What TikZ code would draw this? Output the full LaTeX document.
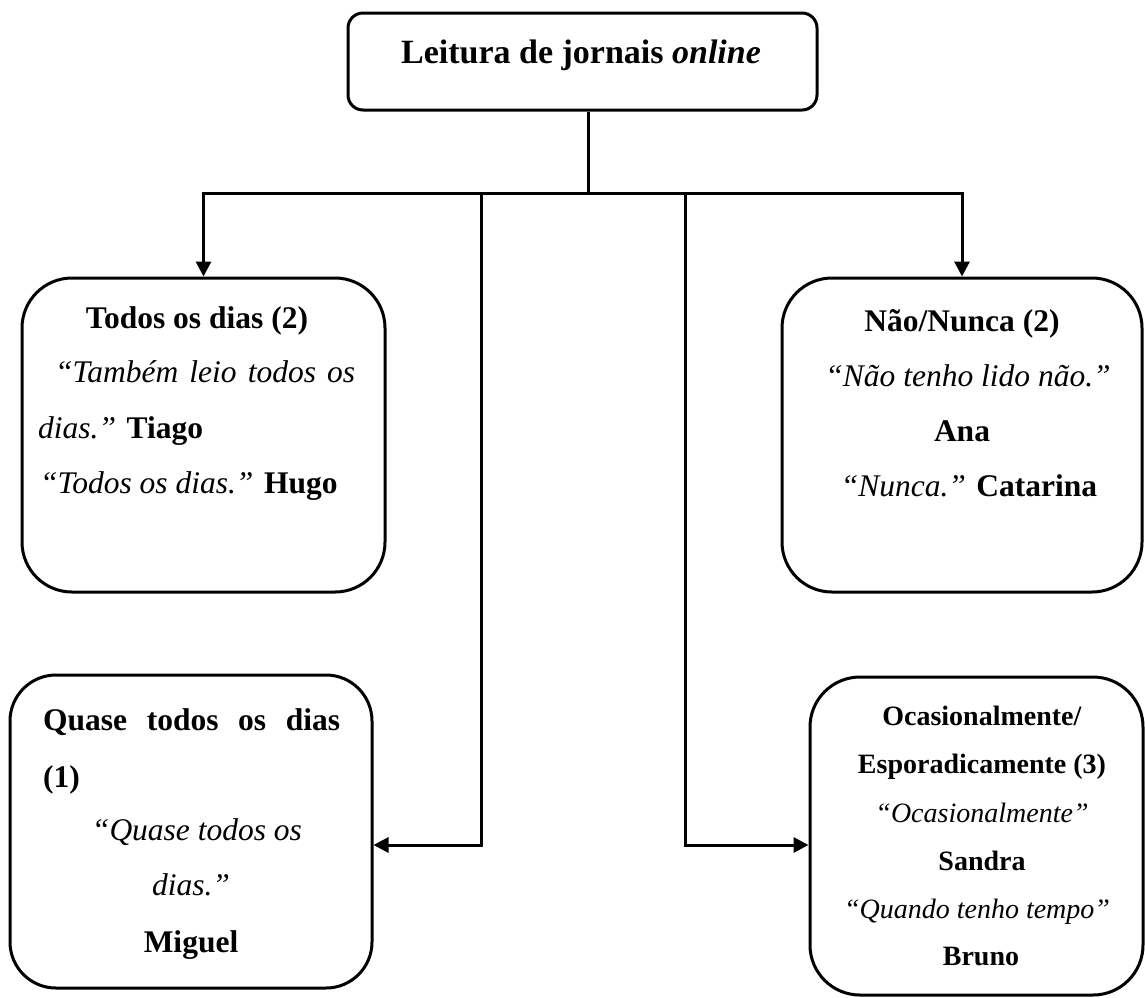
\documentclass[tikz,border=0pt]{standalone}
\usepackage{fontspec}
\setmainfont{Liberation Serif}
\usetikzlibrary{arrows.meta}
\begin{document}
\begin{tikzpicture}[x=1pt,y=-1pt,
  box/.style={draw, line width=3pt, inner sep=0pt},
  conn/.style={line width=3pt},
  arr/.style={line width=3pt, -{Triangle[length=15pt,width=15pt]}},
  txt/.style={inner sep=0pt, anchor=base, font=\fontsize{31.5}{38}\selectfont},
  txtw/.style={txt, anchor=base west},
  stxt/.style={inner sep=0pt, anchor=base, font=\fontsize{28}{34}\selectfont}]
\useasboundingbox (0,0) rectangle (1145,997);
% boxes
\node[box, rounded corners=15pt, minimum width=469pt, minimum height=97pt] (title) at (582.5,61.5) {};
\node[box, rounded corners=50pt, minimum width=363pt, minimum height=314pt] (todos) at (203.5,435) {};
\node[box, rounded corners=50pt, minimum width=360pt, minimum height=314pt] (nao) at (962,435) {};
\node[box, rounded corners=46pt, minimum width=362pt, minimum height=313pt] (quase) at (191,831.5) {};
\node[box, rounded corners=50pt, minimum width=333pt, minimum height=318pt] (ocas) at (976.5,836) {};
% title text
\node[inner sep=0pt, anchor=base, font=\fontsize{34}{40}\selectfont] (titletxt) at (581,63) {\textbf{Leitura de jornais \textit{online}}};
% todos
\node[txt] (t1) at (197,328) {\textbf{Todos os dias (2)}};
\node[txtw] (t2) at (55,382) {\itshape\makebox[300pt][s]{“Também leio todos os}};
\node[txtw] (t3) at (38,438) {\textit{dias.”} \textbf{Tiago}};
\node[txtw] (t4) at (40,493) {\textit{“Todos os dias.”} \textbf{Hugo}};
% nao
\node[txt] (n1) at (962,331) {\textbf{Não/Nunca (2)}};
\node[txt] (n2) at (968,386) {\textit{“Não tenho lido não.”}};
\node[txt] (n3) at (962,441) {\textbf{Ana}};
\node[txt] (n4) at (969,496) {\textit{“Nunca.”} \textbf{Catarina}};
% quase
\node[txtw] (q1) at (43,730) {\bfseries\makebox[297pt][s]{Quase todos os dias}};
\node[txtw] (q2) at (43,787) {\textbf{(1)}};
\node[txt] (q3) at (197,840) {\textit{“Quase todos os}};
\node[txt] (q4) at (191,895) {\textit{dias.”}};
\node[txt] (q5) at (191,952) {\textbf{Miguel}};
% ocas
\node[stxt] (o1) at (982,725) {\textbf{Ocasionalmente/}};
\node[stxt] (o2) at (982,773) {\textbf{Esporadicamente (3)}};
\node[stxt] (o3) at (982,822) {\textit{“Ocasionalmente”}};
\node[stxt] (o4) at (982,870) {\textbf{Sandra}};
\node[stxt] (o5) at (977,918) {\textit{“Quando tenho tempo”}};
\node[stxt] (o6) at (981,965) {\textbf{Bruno}};
% connectors
\coordinate (j) at (588,193);
\coordinate (lv) at (481,193);
\coordinate (rv) at (685,193);
\draw[conn] (title.south -| j) -- (j);
\draw[arr] (j) -| (todos.north);
\draw[arr] (j) -| (nao.north);
\draw[arr] (lv) |- ([yshift=-13.5pt]quase.east);
\draw[arr] (rv) |- ([yshift=-9pt]ocas.west);
\end{tikzpicture}
\end{document}
